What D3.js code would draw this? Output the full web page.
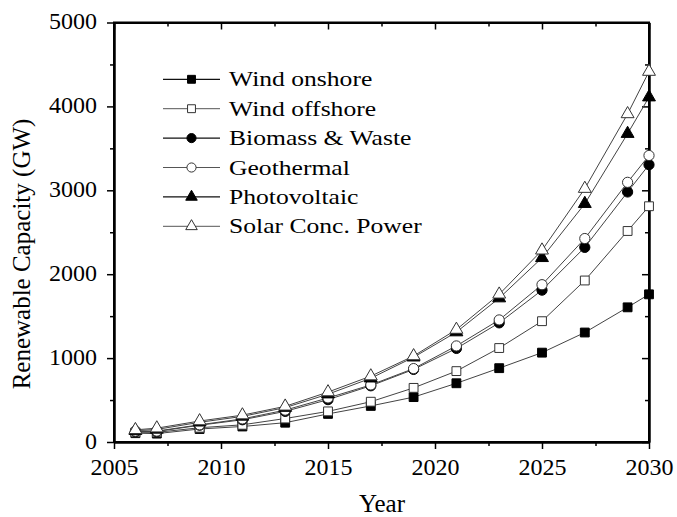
<!DOCTYPE html>
<html>
<head>
<meta charset="utf-8">
<script src="https://cdn.jsdelivr.net/npm/d3@7/dist/d3.min.js"></script>
<style>
  html, body { margin: 0; padding: 0; background: #fff; }
  svg { display: block; font-family: "Liberation Serif", "Times New Roman", serif; }
</style>
</head>
<body>
<svg id="chart" width="677" height="517"></svg>
<script>
// Projected renewable capacity (GW) by technology
const years = [2006, 2007, 2009, 2011, 2013, 2015, 2017, 2019, 2021, 2023, 2025, 2027, 2029, 2030];

const windOnshore  = [105, 100, 155, 185, 230, 335, 430, 535, 700, 880, 1065, 1305, 1605, 1760];
const windOffshore = [115, 115, 170, 205, 280, 365, 480, 645, 845, 1120, 1440, 1925, 2515, 2810];
const biomassWaste = [125, 125, 200, 265, 365, 505, 670, 865, 1115, 1420, 1810, 2320, 2980, 3305];
const geothermal   = [130, 130, 205, 275, 380, 525, 680, 875, 1145, 1455, 1875, 2425, 3095, 3415];
const photovoltaic = [135, 150, 235, 305, 410, 570, 760, 1010, 1310, 1715, 2195, 2840, 3675, 4110];
const solarConc    = [145, 165, 250, 320, 425, 595, 785, 1025, 1340, 1760, 2285, 3020, 3910, 4415];

const seriesNames = ["Wind onshore", "Wind offshore", "Biomass & Waste", "Geothermal", "Photovoltaic", "Solar Conc. Power"];
const seriesValues = [windOnshore, windOffshore, biomassWaste, geothermal, photovoltaic, solarConc];

const xTicks = [2005, 2010, 2015, 2020, 2025, 2030];
const xMinorTicks = [2007.5, 2012.5, 2017.5, 2022.5, 2027.5];
const yTicks = [0, 1000, 2000, 3000, 4000, 5000];
const yMinorTicks = [500, 1500, 2500, 3500, 4500];

// marker style per series: symbol shape and filled/open
const markerStyles = [
  { shape: d3.symbolSquare,   filled: true,  size: 78 },
  { shape: d3.symbolSquare,   filled: false, size: 78 },
  { shape: d3.symbolCircle,   filled: true,  size: 82 },
  { shape: d3.symbolCircle,   filled: false, size: 82 },
  { shape: d3.symbolTriangle, filled: true,  size: 72 },
  { shape: d3.symbolTriangle, filled: false, size: 72 }
];

const serif = "'Liberation Serif', 'Times New Roman', serif";
const svg = d3.select("#chart");
const plotLeft = 114, plotRight = 649, plotTop = 22.5, plotBottom = 442;

const x = d3.scaleLinear().domain([2005, 2030]).range([plotLeft, plotRight]);
const y = d3.scaleLinear().domain([0, 5000]).range([plotBottom, plotTop]);

// ---- axes (bottom/left ticks outward, top/right ticks inward) ----
const axisFont = "24px";
const majorLen = 7, minorLen = 4;

const gBottom = svg.append("g").attr("transform", `translate(0,${plotBottom})`)
  .call(d3.axisBottom(x).tickValues(xTicks).tickFormat(d3.format("d")).tickSize(majorLen).tickSizeOuter(0));
gBottom.selectAll("text").attr("y", 33).attr("dy", 0).attr("fill", "#000");
svg.append("g").attr("transform", `translate(0,${plotBottom})`)
  .call(d3.axisBottom(x).tickValues(xMinorTicks).tickFormat("").tickSize(minorLen).tickSizeOuter(0));

const gLeft = svg.append("g").attr("transform", `translate(${plotLeft},0)`)
  .call(d3.axisLeft(y).tickValues(yTicks).tickFormat(d3.format("d")).tickSize(majorLen).tickSizeOuter(0));
gLeft.selectAll("text").attr("x", -17).attr("dy", "0.26em").attr("fill", "#000");
svg.append("g").attr("transform", `translate(${plotLeft},0)`)
  .call(d3.axisLeft(y).tickValues(yMinorTicks).tickFormat("").tickSize(minorLen).tickSizeOuter(0));

[gBottom, gLeft].forEach(g => g.attr("font-family", serif).attr("font-size", axisFont));

svg.append("g").attr("transform", `translate(0,${plotTop})`)
  .call(d3.axisTop(x).tickValues(xTicks).tickFormat("").tickSize(-majorLen).tickSizeOuter(0));
svg.append("g").attr("transform", `translate(0,${plotTop})`)
  .call(d3.axisTop(x).tickValues(xMinorTicks).tickFormat("").tickSize(-minorLen).tickSizeOuter(0));
svg.append("g").attr("transform", `translate(${plotRight},0)`)
  .call(d3.axisRight(y).tickValues(yTicks).tickFormat("").tickSize(-majorLen).tickSizeOuter(0));
svg.append("g").attr("transform", `translate(${plotRight},0)`)
  .call(d3.axisRight(y).tickValues(yMinorTicks).tickFormat("").tickSize(-minorLen).tickSizeOuter(0));

svg.selectAll(".domain").attr("stroke", "#000").attr("stroke-width", 2);
svg.selectAll(".tick line").attr("stroke", "#000").attr("stroke-width", 1.5);

// frame
svg.append("rect")
  .attr("x", plotLeft).attr("y", plotTop)
  .attr("width", plotRight - plotLeft).attr("height", plotBottom - plotTop)
  .attr("fill", "none").attr("stroke", "#000").attr("stroke-width", 2);

// axis titles
svg.append("text")
  .attr("x", (plotLeft + plotRight) / 2 + 0.5).attr("y", 512)
  .attr("text-anchor", "middle").style("font-size", "25px").text("Year");
svg.append("text")
  .attr("transform", `translate(30,254) rotate(-90)`)
  .attr("text-anchor", "middle").style("font-size", "25px").text("Renewable Capacity (GW)");

// ---- series ----
const line = d3.line().x((d, i) => x(years[i])).y(d => y(d));
const plot = svg.append("g");

seriesValues.forEach((vals, k) => {
  plot.append("path")
    .datum(vals)
    .attr("d", line)
    .attr("fill", "none")
    .attr("stroke", "#444")
    .attr("stroke-width", 1);
});

seriesValues.forEach((vals, k) => {
  const st = markerStyles[k];
  plot.append("g").selectAll("path")
    .data(vals)
    .join("path")
    .attr("transform", (d, i) => `translate(${x(years[i])},${y(d)})`)
    .attr("d", d3.symbol().type(st.shape).size(st.size))
    .attr("fill", st.filled ? "#000" : "#fff")
    .attr("stroke", st.filled ? "#000" : "#333")
    .attr("stroke-width", 1);
});

// ---- legend ----
const legend = svg.append("g");
const legendTop = 79.3, legendStep = 29.4;
seriesNames.forEach((name, k) => {
  const st = markerStyles[k];
  const cy = legendTop + k * legendStep;
  const row = legend.append("g");
  row.append("line")
    .attr("x1", 163).attr("x2", 220).attr("y1", cy).attr("y2", cy)
    .attr("stroke", st.filled ? "#111" : "#555")
    .attr("stroke-width", st.filled ? 1.3 : 1);
  row.append("path")
    .attr("transform", `translate(191.5,${cy})`)
    .attr("d", d3.symbol().type(st.shape).size(st.size * 0.8))
    .attr("fill", st.filled ? "#000" : "#fff")
    .attr("stroke", st.filled ? "#000" : "#333")
    .attr("stroke-width", 1);
  row.append("text")
    .attr("transform", `translate(229,${cy + 7}) scale(1.22,1)`)
    .style("font-size", "21px")
    .text(name);
});
</script>
</body>
</html>
